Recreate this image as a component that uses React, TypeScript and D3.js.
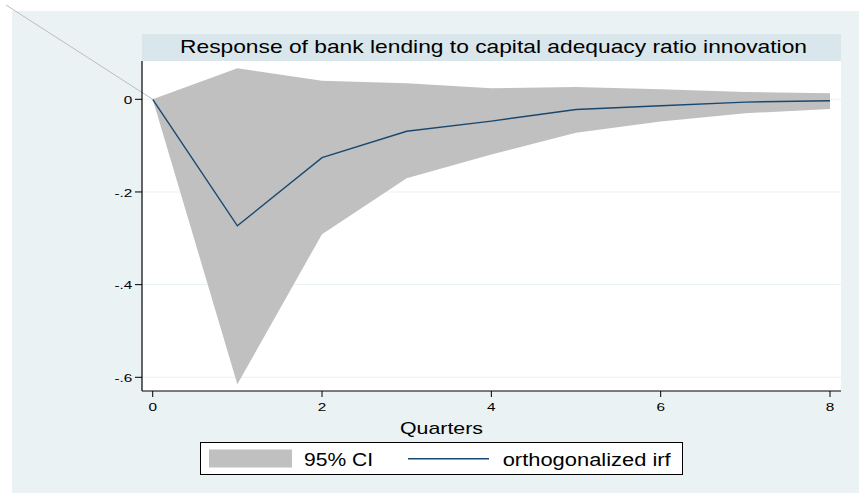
import React from "react";
import * as d3 from "d3";

const steps = [0, 1, 2, 3, 4, 5, 6, 7, 8];
const irf = [0, -0.273, -0.126, -0.069, -0.047, -0.022, -0.014, -0.006, -0.003];
const ciUpper = [0, 0.067, 0.04, 0.0345, 0.024, 0.0265, 0.0216, 0.016, 0.013];
const ciLower = [0, -0.615, -0.291, -0.1705, -0.119, -0.072, -0.048, -0.03, -0.021];
const yTicks = [0, -0.2, -0.4, -0.6];
const yTickLabels = ["0", "-.2", "-.4", "-.6"];
const xTicks = [0, 2, 4, 6, 8];
const title = "Response of bank lending to capital adequacy ratio innovation";
const xTitle = "Quarters";
const legendLabels = ["95% CI", "orthogonalized irf"];

const W = 859;
const H = 493;
const FONT = "Arial, 'Liberation Sans', Helvetica, sans-serif";
const SX = 1.3;

export default function App() {
  const plotL = 142, plotR = 841, plotT = 61, plotB = 391;
  const x = d3.scaleLinear().domain([0, 8]).range([152.7, 830]);
  const y = d3.scaleLinear().domain([0, -0.6]).range([99.3, 377.3]);

  const area = d3
    .area<number>()
    .x((_, i) => x(steps[i]))
    .y0((_, i) => y(ciLower[i]))
    .y1((_, i) => y(ciUpper[i]));
  const line = d3
    .line<number>()
    .x((_, i) => x(steps[i]))
    .y((d) => y(d));

  return (
    <svg
      width={W}
      height={H}
      style={{ position: "absolute", left: 0, top: 0, display: "block" }}
      fontFamily={FONT}
    >
      <rect x={0} y={0} width={W} height={H} fill="#ffffff" />
      <rect x={12} y={11} width={W - 12} height={H - 11} fill="#EAF2F3" />
      {/* title band */}
      <rect x={plotL} y={34} width={plotR - plotL} height={plotT - 34} fill="#D9E6EB" />
      <text
        x={180}
        y={52.7}
        fontSize={17.7}
        fill="#000"
        textLength={627}
        lengthAdjust="spacingAndGlyphs"
      >
        {title}
      </text>
      {/* plot area */}
      <rect x={plotL} y={plotT} width={plotR - plotL} height={plotB - plotT} fill="#ffffff" />
      {yTicks.map((t) => (
        <line key={"g" + t} x1={plotL} x2={plotR} y1={y(t)} y2={y(t)} stroke="#EAF2F3" strokeWidth={1} />
      ))}
      <path d={area(steps) || ""} fill="#C0C0C0" stroke="none" />
      <path d={line(irf) || ""} fill="none" stroke="#1A476F" strokeWidth={1.4} />
      {/* stray diagonal line */}
      <line x1={6} y1={5} x2={x(0)} y2={y(0)} stroke="#BDBDBD" strokeWidth={1} />
      {/* axes */}
      <line x1={plotL} x2={plotL} y1={plotT} y2={plotB} stroke="#000" strokeWidth={1.2} />
      <line x1={plotL} x2={plotR} y1={plotB} y2={plotB} stroke="#000" strokeWidth={1.2} />
      {yTicks.map((t, i) => (
        <g key={"y" + t}>
          <line x1={plotL - 7} x2={plotL} y1={y(t)} y2={y(t)} stroke="#000" strokeWidth={1} />
          <text
            transform={`translate(${plotL - 9.7},${y(t) + 4.6}) scale(${SX},1)`}
            textAnchor="end"
            fontSize={11.8}
            fill="#000"
          >
            {yTickLabels[i]}
          </text>
        </g>
      ))}
      {xTicks.map((t) => (
        <g key={"x" + t}>
          <line x1={x(t)} x2={x(t)} y1={plotB} y2={plotB + 6} stroke="#000" strokeWidth={1} />
          <text
            transform={`translate(${x(t)},${411}) scale(${SX},1)`}
            textAnchor="middle"
            fontSize={11.8}
            fill="#000"
          >
            {t}
          </text>
        </g>
      ))}
      <text x={400} y={434} fontSize={17} fill="#000" textLength={83} lengthAdjust="spacingAndGlyphs">
        {xTitle}
      </text>
      {/* legend */}
      <rect x={200.5} y={442.5} width={482} height={32} fill="#ffffff" stroke="#000" strokeWidth={1} />
      <rect x={209} y={449.5} width={83} height={18} fill="#C0C0C0" />
      <text x={304} y={465.7} fontSize={17.5} fill="#000" textLength={69} lengthAdjust="spacingAndGlyphs">
        {legendLabels[0]}
      </text>
      <line x1={408} x2={489} y1={458.7} y2={458.7} stroke="#1A476F" strokeWidth={1.4} />
      <text x={502.7} y={465.7} fontSize={17.5} fill="#000" textLength={168} lengthAdjust="spacingAndGlyphs">
        {legendLabels[1]}
      </text>
    </svg>
  );
}
